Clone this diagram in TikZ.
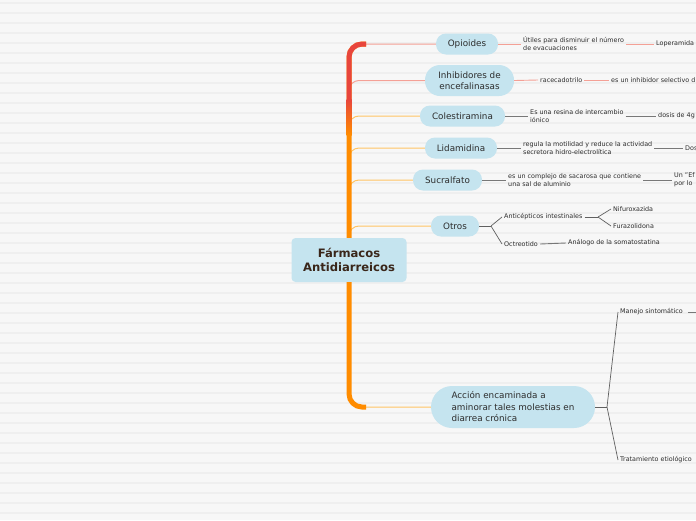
\documentclass[tikz,border=0pt]{standalone}
\usepackage{fontspec}
\setmainfont{DejaVu Sans}
\definecolor{bgpaper}{RGB}{247,247,247}
\definecolor{bgstripe}{RGB}{239,239,239}
\definecolor{nodeblue}{RGB}{197,228,239}
\definecolor{rootbrown}{RGB}{58,38,26}
\definecolor{textgray}{RGB}{45,45,45}
\definecolor{trunkred}{RGB}{232,69,60}
\definecolor{trunkorange}{RGB}{255,140,0}
\definecolor{branchred}{RGB}{244,160,150}
\definecolor{branchorange}{RGB}{255,196,100}
\definecolor{linkgray}{RGB}{120,120,120}
\usetikzlibrary{positioning}

\begin{document}
\begin{tikzpicture}[x=1pt, y=-1pt,
  root/.style={fill=nodeblue, rounded corners=4pt, minimum width=115pt, minimum height=44pt, inner sep=0pt, align=center, font=\fontsize{11.6}{14}\selectfont\bfseries, text=rootbrown},
  topic/.style={fill=nodeblue, rounded corners=10pt, minimum height=21pt, inner sep=0pt, align=center, font=\fontsize{8.8}{11.5}\selectfont, text=textgray},
  lbl/.style={inner sep=2pt, anchor=west, align=left, font=\fontsize{6.4}{8}\selectfont, text=textgray},
  trunk/.style={line width=5pt, trunkorange, rounded corners=13pt},
  redbranch/.style={branchred, line width=1pt, rounded corners=10pt},
  orangebranch/.style={branchorange, line width=1pt, rounded corners=10pt},
  redlink/.style={branchred, line width=0.9pt},
  graylink/.style={linkgray, line width=0.9pt},
  fork/.style={linkgray!80!black, line width=0.7pt},
  stripe/.style={bgstripe, line width=1.3pt}
]
\clip (0,0) rectangle (696,520);
\fill[bgpaper] (0,0) rectangle (696,520);
\foreach \y in {3,13,...,520}
  \draw[stripe] (0,\y) -- (696,\y);

\node[root] (root) at (349,260) {Fármacos\\Antidiarreicos};

\node[topic, minimum width=62pt] (opio) at (467,44) {Opioides};
\node[topic, minimum width=89pt, minimum height=31pt, rounded corners=15pt] (inhib) at (469.5,80.5) {Inhibidores de\\encefalinasas};
\node[topic, minimum width=85pt] (coles) at (462.5,116) {Colestiramina};
\node[topic, minimum width=72pt] (lida) at (461,148) {Lidamidina};
\node[topic, minimum width=69pt] (sucra) at (447.5,180) {Sucralfato};
\node[topic, minimum width=48pt] (otros) at (455,226) {Otros};
\node[topic, minimum width=164pt, minimum height=42pt, rounded corners=21pt, align=left] (accion) at (513,407) {Acción encaminada a\\aminorar tales molestias en\\diarrea crónica};

% ramas
\draw[redbranch] (root.north) |- (opio.west);
\draw[redbranch] (root.north) |- (inhib.west);
\draw[orangebranch] (root.north) |- (coles.west);
\draw[orangebranch] (root.north) |- (lida.west);
\draw[orangebranch] (root.north) |- (sucra.west);
\draw[orangebranch] (root.north) |- (otros.west);
\draw[orangebranch] (root.south) |- (accion.west);

% tronco
\coordinate (trunktop) at (366,44);
\coordinate (trunkbot) at (366,407);
\draw[trunk] (root.north) |- (trunktop);
\draw[trunk] (root.south) |- (trunkbot);
\draw[trunk, trunkred] (root.north |- 0,100) |- (trunktop);
\shade[top color=trunkred, bottom color=trunkorange] (346.5,99) rectangle (351.5,135);

% Opioides
\node[lbl] (util) at (521,44) {Útiles para disminuir el número\\de evacuaciones};
\node[lbl] (lope) at (654,44) {Loperamida};
\draw[redlink] (opio.east) -- (util.west);
\draw[redlink] (util.east) -- (lope.west);

% Inhibidores de encefalinasas
\node[lbl] (race) at (538,80) {racecadotrilo};
\node[lbl] (selec) at (609,80) {es un inhibidor selectivo d};
\draw[redlink] (inhib.east) -- (race.west);
\draw[redlink] (race.east) -- (selec.west);

% Colestiramina
\node[lbl] (resina) at (528,116) {Es una resina de intercambio\\iónico};
\node[lbl] (dosis) at (656,116) {dosis de 4g};
\draw[graylink] (coles.east) -- (resina.west);
\draw[graylink] (resina.east) -- (dosis.west);

% Lidamidina
\node[lbl] (regula) at (521,148) {regula la motilidad y reduce la actividad\\secretora hidro-electrolítica};
\node[lbl] (dos) at (683,148) {Dos};
\draw[graylink] (lida.east) -- (regula.west);
\draw[graylink] (regula.east) -- (dos.west);

% Sucralfato
\node[lbl] (complejo) at (506,180) {es un complejo de sacarosa que contiene\\una sal de aluminio};
\node[lbl] (efecto) at (672,180) {Un "Ef\\por lo};
\draw[graylink] (sucra.east) -- (complejo.west);
\draw[graylink] (complejo.east) -- (efecto.west);

% Otros
\coordinate (forkotros) at (491,226);
\node[lbl] (antic) at (502,217) {Anticépticos intestinales};
\node[lbl] (octreo) at (502,244) {Octreotido};
\node[lbl] (nifu) at (611,209) {Nifuroxazida};
\node[lbl] (fura) at (611,226) {Furazolidona};
\node[lbl] (analogo) at (566,243) {Análogo de la somatostatina};
\coordinate (forkantic) at (598,217);
\draw[fork] (otros.east) -- (forkotros);
\draw[fork] (forkotros) -- (antic.west);
\draw[fork] (forkotros) -- (octreo.west);
\draw[fork] (antic.east) -- (forkantic);
\draw[fork] (forkantic) -- (nifu.west);
\draw[fork] (forkantic) -- (fura.west);
\draw[graylink] (octreo.east) -- (analogo.west);

% Accion
\coordinate (forkaccion) at (607,407);
\node[lbl] (manejo) at (618,312) {Manejo sintomático};
\node[lbl] (trata) at (618,460) {Tratamiento etiológico};
\coordinate (manejonext) at (700,312);
\draw[fork, line width=0.9pt] (accion.east) -- (forkaccion);
\draw[fork] (forkaccion) -- (manejo.west);
\draw[fork] (forkaccion) -- (trata.west);
\draw[graylink] (manejo.east) ++(3,0) -- (manejonext);

\end{tikzpicture}
\end{document}
